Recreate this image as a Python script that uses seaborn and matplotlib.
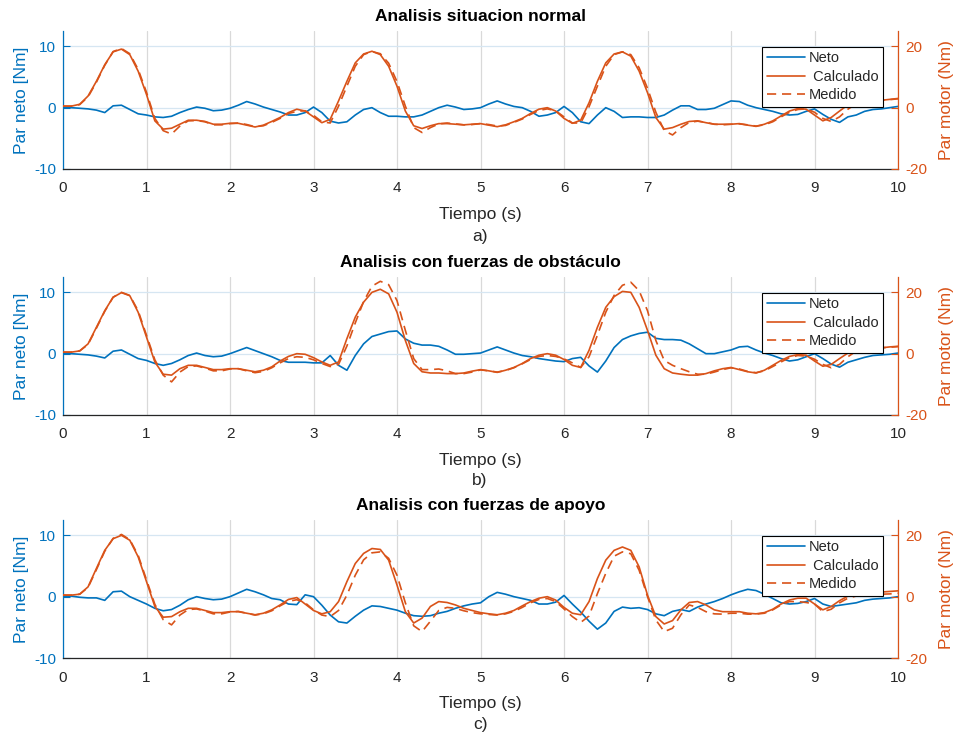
import numpy as np
import pandas as pd
import matplotlib
matplotlib.use("Agg")
import matplotlib.pyplot as plt
import seaborn as sns

sns.set_theme(style="white")
plt.rcParams["font.family"] = ["Liberation Sans", "DejaVu Sans"]
plt.rcParams["axes.unicode_minus"] = False

BLUE = "#0072BD"
ORANGE = "#D95319"
DARK = "#262626"

# time base (s), 0.1 s sampling
tiempo = np.round(np.arange(101) * 0.1, 1)

# ---------- a) situacion normal ----------
neto_a = [0.0, 0.0, -0.1, -0.2, -0.4, -0.8, 0.3, 0.4, -0.3, -1.0,
          -1.2, -1.5, -1.6, -1.4, -0.8, -0.3, 0.1, -0.1, -0.5, -0.4,
          -0.1, 0.4, 1.0, 0.6, 0.1, -0.3, -0.7, -1.2, -1.2, -0.8,
          0.1, -0.8, -2.2, -2.5, -2.3, -1.2, -0.3, 0.0, -0.8, -1.4,
          -1.4, -1.5, -1.5, -1.2, -0.6, 0.0, 0.4, 0.1, -0.3, -0.2,
          0.0, 0.6, 1.1, 0.6, 0.2, 0.0, -0.6, -1.4, -1.2, -0.8,
          0.2, -0.8, -2.3, -2.6, -1.2, 0.0, -0.6, -1.6, -1.5, -1.5,
          -1.6, -1.6, -1.2, -0.4, 0.3, 0.3, -0.3, -0.3, -0.1, 0.5,
          1.1, 1.0, 0.4, 0.0, -0.3, -0.6, -1.0, -1.2, -1.1, -0.6,
          -0.2, -1.1, -1.9, -2.4, -1.5, -1.2, -0.6, -0.3, -0.2, 0.0, 0.2]
calc_a = [0.5, 0.5, 1.1, 3.8, 8.6, 14.0, 18.2, 19.1, 17.3, 11.9,
          4.3, -4.3, -7.0, -6.7, -5.4, -4.1, -4.1, -4.5, -5.4, -5.4,
          -5.1, -5.1, -5.7, -6.3, -5.7, -4.5, -3.2, -1.6, -0.5, -1.1,
          -3.0, -4.9, -3.8, 2.2, 8.6, 14.6, 17.5, 18.4, 17.3, 13.5,
          7.0, -1.1, -5.9, -6.8, -5.9, -5.2, -5.2, -5.4, -5.6, -5.4,
          -5.2, -5.7, -6.2, -5.6, -4.6, -3.5, -1.9, -0.5, 0.0, -1.1,
          -3.5, -5.1, -4.1, 1.6, 8.6, 14.6, 17.5, 18.2, 16.8, 11.9,
          4.9, -3.2, -7.0, -6.5, -5.4, -4.5, -4.3, -4.9, -5.4, -5.4,
          -5.4, -5.2, -5.7, -6.1, -5.4, -4.3, -2.7, -1.1, -0.3, -0.5,
          -2.4, -4.3, -3.2, -1.1, 0.9, 1.6, 2.2, 2.4, 2.4, 2.7, 3.0]
med_a = [0.5, 0.5, 1.0, 3.5, 8.3, 13.8, 18.3, 19.3, 17.6, 12.5,
         5.0, -3.5, -7.5, -8.6, -6.0, -4.3, -4.2, -4.6, -5.6, -5.6,
         -5.2, -5.0, -5.5, -6.2, -5.9, -4.8, -3.5, -1.9, -1.2, -1.0,
         -2.5, -4.6, -5.0, 0.5, 7.0, 13.5, 17.3, 18.3, 17.6, 14.5,
         8.5, 0.5, -6.5, -8.1, -6.5, -5.3, -5.0, -5.3, -5.6, -5.5,
         -5.2, -5.5, -6.0, -5.8, -4.8, -3.7, -2.2, -0.9, -0.4, -1.0,
         -3.0, -5.0, -5.0, 0.3, 7.0, 13.5, 17.3, 18.2, 17.3, 13.0,
         6.3, -1.5, -7.5, -8.9, -6.5, -4.8, -4.4, -4.8, -5.4, -5.6,
         -5.4, -5.3, -5.6, -6.0, -5.6, -4.6, -3.0, -1.5, -0.6, -0.4,
         -1.5, -3.5, -4.5, -3.0, -0.5, 1.2, 2.0, 2.3, 2.4, 2.6, 2.9]

# ---------- b) fuerzas de obstaculo ----------
neto_b = [0.0, 0.0, -0.1, -0.2, -0.4, -0.7, 0.4, 0.6, -0.1, -0.8,
          -1.1, -1.6, -1.9, -1.6, -1.0, -0.3, 0.1, -0.3, -0.5, -0.4,
          0.0, 0.5, 1.0, 0.5, 0.0, -0.5, -1.1, -1.4, -1.4, -1.4,
          -1.5, -1.5, -0.3, -1.9, -2.7, -0.3, 1.6, 2.8, 3.2, 3.6,
          3.7, 2.4, 1.7, 1.4, 1.4, 1.2, 0.6, -0.1, -0.1, 0.0,
          0.1, 0.6, 1.1, 0.6, 0.1, -0.3, -0.5, -0.8, -1.0, -1.2,
          -1.3, -0.8, -0.6, -2.0, -3.0, -1.2, 1.0, 2.3, 2.9, 3.3,
          3.5, 2.5, 2.3, 2.3, 2.2, 1.6, 0.8, 0.0, 0.0, 0.3,
          0.6, 1.1, 1.2, 0.6, 0.1, -0.3, -0.8, -1.2, -1.0, -0.5,
          0.0, -0.8, -1.7, -2.2, -1.4, -1.0, -0.6, -0.3, -0.2, -0.1, 0.1]
calc_b = [0.5, 0.5, 0.9, 3.2, 8.6, 14.0, 18.4, 19.9, 18.9, 13.5,
          5.4, -2.7, -6.7, -7.0, -4.9, -3.8, -3.8, -4.5, -5.2, -5.2,
          -4.9, -4.9, -5.4, -5.9, -5.4, -4.3, -2.4, -0.9, 0.0, -0.2,
          -1.3, -2.7, -3.8, -2.7, 4.9, 11.9, 16.8, 20.0, 21.0, 19.5,
          13.5, 4.3, -3.2, -5.9, -6.3, -6.3, -6.5, -6.5, -6.3, -5.7,
          -5.2, -5.6, -6.1, -5.4, -4.5, -3.2, -1.6, -0.5, 0.0, -0.5,
          -1.9, -3.8, -4.5, 1.1, 8.6, 15.1, 18.6, 20.3, 20.0, 15.1,
          7.6, -0.5, -4.9, -6.3, -6.7, -7.0, -7.0, -6.5, -5.6, -4.9,
          -4.5, -5.2, -5.9, -6.3, -5.4, -3.8, -2.2, -0.9, -0.3, -0.5,
          -2.4, -4.1, -3.5, -1.6, 0.2, 1.3, 1.6, 1.9, 1.9, 2.2, 2.4]
med_b = [0.5, 0.5, 0.9, 3.0, 8.3, 13.8, 18.4, 20.0, 19.0, 14.0,
         6.0, -2.0, -7.0, -9.2, -6.0, -4.2, -4.0, -4.7, -5.6, -5.6,
         -5.0, -4.9, -5.6, -6.2, -5.8, -4.6, -3.0, -1.6, -1.0, -1.2,
         -2.0, -3.2, -4.2, -3.5, 2.5, 10.0, 17.0, 22.0, 23.6, 22.5,
         17.3, 7.6, -1.6, -5.2, -5.2, -5.0, -5.6, -6.5, -6.5, -6.0,
         -5.3, -5.6, -6.0, -5.5, -4.6, -3.3, -1.9, -0.9, -0.6, -0.9,
         -1.7, -3.0, -4.5, -1.0, 6.0, 13.5, 19.0, 22.3, 23.3, 20.5,
         14.0, 4.3, -2.2, -3.8, -4.9, -5.9, -6.7, -6.7, -6.0, -5.2,
         -4.6, -5.0, -5.8, -6.2, -5.6, -4.2, -2.7, -1.3, -0.6, -0.8,
         -1.8, -3.5, -4.6, -3.5, -1.0, 0.8, 1.4, 1.7, 1.9, 2.1, 2.3]

# ---------- c) fuerzas de apoyo ----------
neto_c = [0.0, 0.1, -0.1, -0.2, -0.2, -0.6, 0.8, 0.9, 0.0, -0.6,
          -1.2, -1.9, -2.3, -2.1, -1.4, -0.5, 0.0, -0.3, -0.5, -0.4,
          0.0, 0.6, 1.2, 0.8, 0.3, -0.3, -0.5, -1.2, -1.3, 0.3,
          0.0, -1.4, -3.0, -4.1, -4.3, -3.2, -2.2, -1.5, -1.6, -1.9,
          -2.2, -2.7, -3.1, -3.2, -3.1, -2.7, -2.4, -1.9, -1.5, -1.2,
          -1.0, 0.0, 0.7, 0.4, 0.0, -0.3, -0.6, -1.2, -1.2, -0.9,
          0.2, -1.2, -2.5, -4.0, -5.3, -4.3, -2.4, -1.7, -1.9, -1.8,
          -2.1, -2.8, -3.1, -2.4, -2.1, -2.4, -1.7, -1.2, -0.8, -0.3,
          0.3, 0.8, 1.2, 1.0, 0.4, -0.3, -1.0, -1.2, -1.1, -0.8,
          -0.3, -1.2, -1.6, -1.4, -1.2, -1.0, -0.6, -0.4, -0.3, -0.2, 0.0]
calc_c = [0.5, 0.5, 0.8, 3.2, 9.2, 15.1, 18.9, 20.0, 18.4, 13.0,
          4.9, -3.2, -6.7, -6.5, -4.9, -3.8, -3.8, -4.5, -5.2, -5.2,
          -4.9, -4.9, -5.4, -5.9, -5.4, -4.3, -2.7, -0.9, -0.3, -2.4,
          -4.5, -5.6, -4.9, -1.6, 4.9, 10.8, 14.1, 15.7, 15.4, 11.9,
          3.8, -4.9, -8.6, -7.0, -3.2, -1.6, -1.9, -2.7, -3.8, -4.5,
          -5.2, -5.6, -5.9, -5.4, -4.5, -3.0, -1.6, -0.5, 0.0, -1.1,
          -3.5, -5.4, -5.9, -1.6, 5.9, 11.9, 15.1, 16.2, 15.1, 9.7,
          0.5, -6.5, -8.9, -7.8, -4.3, -1.9, -1.6, -2.7, -4.3, -4.9,
          -4.9, -4.9, -5.4, -5.6, -5.2, -4.1, -2.4, -1.1, -0.5, -0.5,
          -2.4, -4.3, -3.2, -1.3, 0.2, 1.1, 1.3, 1.3, 1.5, 1.7, 1.9]
med_c = [0.5, 0.5, 0.8, 3.0, 8.8, 14.8, 19.0, 20.3, 18.6, 13.5,
         5.5, -2.5, -7.5, -9.2, -6.0, -4.2, -4.0, -4.7, -5.6, -5.6,
         -5.0, -4.8, -5.4, -6.0, -5.6, -4.6, -3.0, -1.5, -1.0, -2.0,
         -4.3, -6.0, -6.5, -4.5, 0.5, 7.0, 12.0, 14.3, 14.6, 12.5,
         7.0, -2.0, -9.5, -11.4, -8.0, -4.5, -3.5, -3.8, -4.6, -5.2,
         -5.6, -5.8, -6.0, -5.6, -4.8, -3.5, -2.0, -0.9, -0.6, -1.6,
         -4.0, -6.5, -8.4, -6.3, 1.0, 7.6, 13.2, 14.6, 14.0, 8.6,
         0.0, -7.6, -11.4, -10.3, -5.9, -2.7, -3.5, -4.9, -5.6, -5.7,
         -5.4, -5.4, -5.7, -5.7, -5.4, -4.3, -2.7, -1.6, -1.6, -1.9,
         -2.4, -4.9, -4.1, -2.0, -0.5, 0.2, 0.5, 0.5, 0.8, 0.9, 1.1]

titulos = ["Analisis situacion normal",
           "Analisis con fuerzas de obstáculo",
           "Analisis con fuerzas de apoyo"]
letras = ["a)", "b)", "c)"]
netos = [neto_a, neto_b, neto_c]
calculados = [calc_a, calc_b, calc_c]
medidos = [med_a, med_b, med_c]

W, H = 955, 734
fig = plt.figure(figsize=(W / 100, H / 100), dpi=100)


def rect(left, top, right, bottom):
    return [left / W, 1 - bottom / H, (right - left) / W, (bottom - top) / H]


cajas = [(63, 31, 898, 169), (63, 277, 898, 415), (63, 520, 898, 658)]
letra_y = [236, 481, 724]

for caja, titulo, letra, ly, neto, calc, med in zip(
        cajas, titulos, letras, letra_y, netos, calculados, medidos):
    df = pd.DataFrame({"Tiempo": tiempo, "Neto": neto,
                       "Calculado": calc, "Medido": med})
    ax = fig.add_axes(rect(*caja))
    axr = ax.twinx()

    sns.lineplot(data=df, x="Tiempo", y="Neto", ax=ax, color=BLUE,
                 linewidth=1.2, sort=False, estimator=None)
    sns.lineplot(data=df, x="Tiempo", y="Calculado", ax=axr, color=ORANGE,
                 linewidth=1.2, sort=False, estimator=None)
    sns.lineplot(data=df, x="Tiempo", y="Medido", ax=axr, color=ORANGE,
                 linewidth=1.2, sort=False, estimator=None,
                 linestyle=(0, (5.5, 3.5)))

    ax.set_xlim(0, 10)
    ax.set_xticks(range(11))
    ax.set_ylim(-10, 12.5)
    ax.set_yticks([-10, 0, 10])
    axr.set_ylim(-20, 25)
    axr.set_yticks([-20, 0, 20])

    ax.grid(axis="x", color="#d9d9d9", linewidth=0.9)
    ax.grid(axis="y", color="#d6e6f2", linewidth=0.9)
    ax.set_axisbelow(True)

    ax.tick_params(axis="x", direction="in", length=4, width=0.8,
                   colors=DARK, labelsize=11, pad=9)
    ax.tick_params(axis="y", direction="in", length=5, width=0.8,
                   colors=BLUE, labelsize=11, pad=5)
    axr.tick_params(axis="y", direction="in", length=5, width=0.8,
                    colors=ORANGE, labelsize=11, pad=5)

    for a in (ax, axr):
        a.spines["top"].set_visible(False)
    ax.spines["right"].set_visible(False)
    axr.spines["left"].set_visible(False)
    axr.spines["bottom"].set_visible(False)
    ax.spines["left"].set_color(BLUE)
    axr.spines["right"].set_color(ORANGE)
    ax.spines["bottom"].set_color(DARK)
    for s in ("left", "bottom"):
        ax.spines[s].set_linewidth(0.9)
    axr.spines["right"].set_linewidth(0.9)

    ax.set_xlabel("Tiempo (s)", fontsize=12.5, color=DARK, labelpad=8)
    ax.set_ylabel("Par neto [Nm]", fontsize=12.5, color=BLUE, labelpad=4)
    axr.set_ylabel("Par motor (Nm)", fontsize=12.5, color=ORANGE,
                   labelpad=9)
    ax.set_title(titulo, fontsize=12.5, fontweight="bold", color="black",
                 pad=7)
    fig.text(480 / W, 1 - ly / H, letra, ha="center", va="center",
             fontsize=12.5, color=DARK)

    handles = [ax.lines[0], axr.lines[0], axr.lines[1]]
    leg = axr.legend(handles, ["Neto", " Calculado", "Medido"],
                     loc="upper right", bbox_to_anchor=(0.982, 0.884),
                     borderaxespad=0, frameon=True, fancybox=False,
                     edgecolor="black", framealpha=1, fontsize=10.5,
                     handlelength=2.6, handletextpad=0.3,
                     labelspacing=0.3, borderpad=0.3)
    leg.get_frame().set_linewidth(0.8)

fig.savefig("out.png", dpi=100)
